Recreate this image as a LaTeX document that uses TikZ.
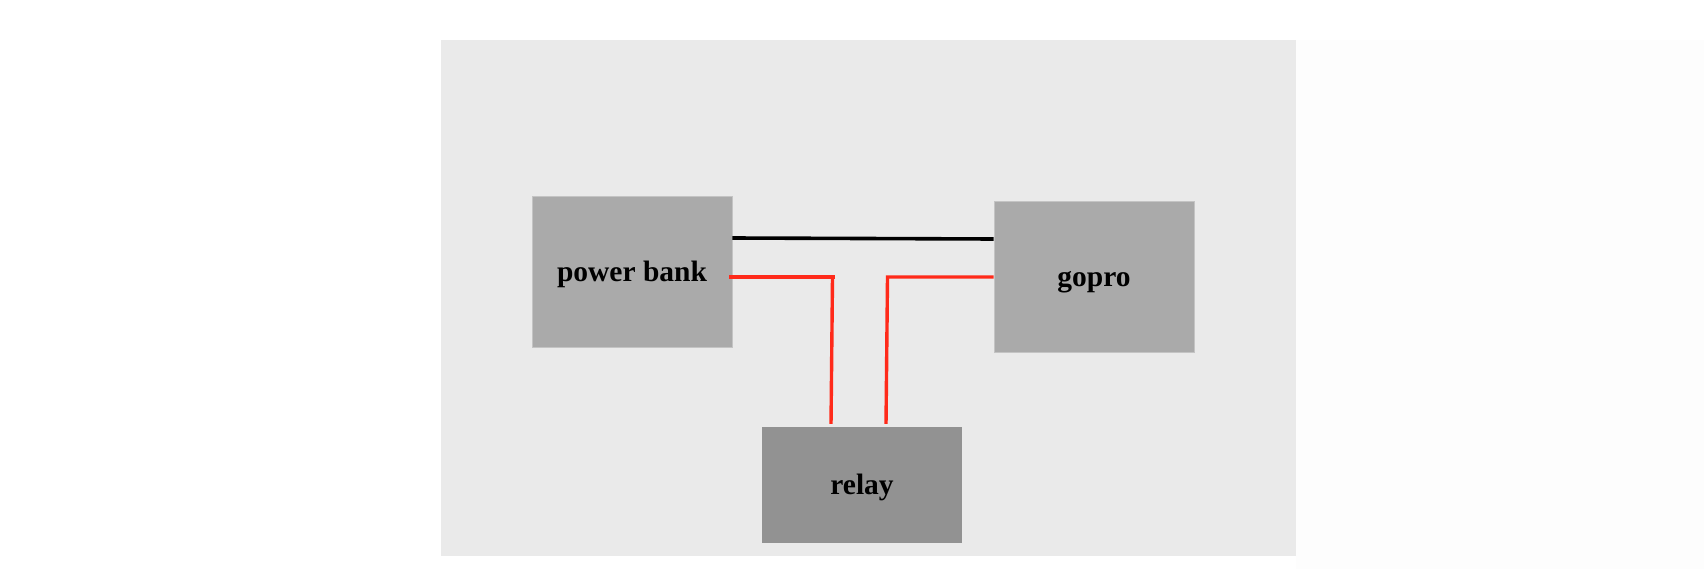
\documentclass[tikz,border=0pt]{standalone}
\usepackage{fontspec}
\setmainfont{Liberation Serif}
\definecolor{panel}{HTML}{EAEAEA}
\definecolor{boxgray}{HTML}{AAAAAA}
\definecolor{relaygray}{HTML}{929292}
\definecolor{edgegray}{HTML}{C4C4C4}
\definecolor{wire}{HTML}{FF2A1A}
\definecolor{offwhite}{HTML}{FDFDFD}
\tikzset{
  unit box/.style={rectangle, fill=boxgray, draw=edgegray, line width=0.8pt,
    font=\bfseries\fontsize{29.5}{34}\selectfont, text height=22pt, text depth=3pt,
    inner sep=0pt},
  blackwire/.style={draw=black, line width=3.6pt},
  redwire/.style={draw=wire, line width=3.4pt}
}
\begin{document}
\begin{tikzpicture}[x=1pt,y=-1pt]
\useasboundingbox (0,0) rectangle (1704,569);
\fill[white] (0,0) rectangle (1704,569);
\fill[offwhite] (1296,40) rectangle (1704,569);
\fill[panel] (441,40) rectangle (1296,555.7);

\node[unit box, minimum width=200pt, minimum height=151pt] (pb) at (632,271.5) {power bank};
\node[unit box, minimum width=200pt, minimum height=151pt] (gp) at (1094,276.8) {gopro};
\node[unit box, fill=relaygray, draw=none, minimum width=200pt, minimum height=116pt] (relay) at (862,485) {relay};

\coordinate (lc) at (832.5,277);
\coordinate (rc) at (887.5,277);

\draw[blackwire] ([yshift=33.5pt]pb.east) -- ([yshift=37.8pt]gp.west);
\draw[redwire] ([xshift=-3pt,yshift=-5.5pt]pb.east) -- ([xshift=2.5pt]lc);
\draw[redwire] (lc) -- ([xshift=-31pt,yshift=2.7pt]relay.north);
\draw[redwire] ([yshift=-0.2pt]gp.west) -- (rc) -- ([xshift=24pt,yshift=2.7pt]relay.north);
\end{tikzpicture}
\end{document}
